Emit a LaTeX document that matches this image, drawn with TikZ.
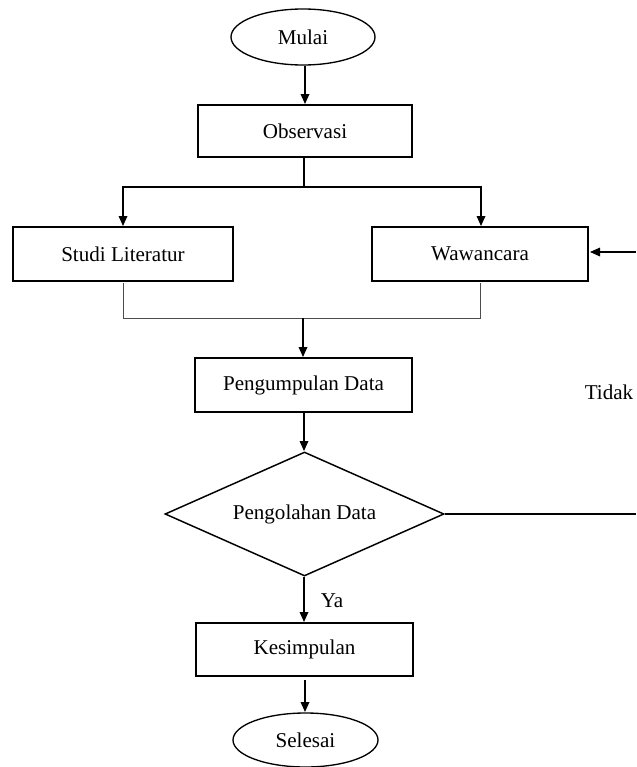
\documentclass[tikz,border=0pt]{standalone}
\usepackage{fontspec}
\setmainfont{Liberation Serif}
\usetikzlibrary{shapes.geometric,arrows.meta}
\begin{document}
\begin{tikzpicture}[x=0.75pt,y=-0.75pt,
  every node/.style={font=\fontsize{15.8pt}{18pt}\selectfont},
  term/.style={draw,line width=1pt,ellipse,inner sep=0pt},
  proc/.style={draw,line width=1.2pt,rectangle,inner sep=0pt},
  dec/.style={draw,line width=1.1pt,diamond,inner sep=0pt},
  conn/.style={line width=0.9pt},
  arr/.style={conn,-{Triangle[length=7.5pt,width=6.5pt]}},
  merge/.style={line width=0.7pt,draw=black!70}]
\useasboundingbox (0,0) rectangle (636,767);
\node[term,minimum width=144*0.75pt,minimum height=56*0.75pt] (mulai) at (303,37) {Mulai};
\node[proc,minimum width=214*0.75pt,minimum height=52*0.75pt] (obs) at (305,131) {Observasi};
\node[proc,minimum width=220*0.75pt,minimum height=54*0.75pt] (studi) at (123,254) {Studi Literatur};
\node[proc,minimum width=216*0.75pt,minimum height=54*0.75pt] (waw) at (480,254) {Wawancara};
\node[proc,minimum width=217*0.75pt,minimum height=54*0.75pt] (pd) at (303.5,385) {Pengumpulan Data};
\node[dec,minimum width=279*0.75pt,minimum height=124*0.75pt,aspect=2.25] (olah) at (304.5,514) {};
\node (olahtxt) at (304.5,514) {Pengolahan Data};
\node[proc,minimum width=217*0.75pt,minimum height=53*0.75pt] (kes) at (304.5,649.5) {Kesimpulan};
\node[term,minimum width=145*0.75pt,minimum height=54*0.75pt] (sel) at (305.5,740) {Selesai};
\node (tidak) at (609,392) {Tidak};
\node (ya) at (332,601) {Ya};
\coordinate (ob) at (304,187);
\coordinate (sa) at (123,187);
\coordinate (wa) at (481,187);
\coordinate (sb) at (123,318);
\coordinate (wb) at (480,318);
\coordinate (mb) at (303,318);
\coordinate (rin) at (636,252);
\coordinate (rout) at (636,514);
\draw[arr] (305,66) -- (305,104);
\draw[conn] (304,157) -- (ob);
\draw[arr] (ob) -- (sa) -- (123,226);
\draw[arr] (ob) -- (wa) -- (481,226);
\draw[arr] (rin) -- (590,252);
\draw[merge] (123,283) -- (sb) -- (wb) -- (480,283);
\draw[arr] (mb) -- (303,357);
\draw[arr] (304,413) -- (304,451);
\draw[conn] (olah.east) -- (rout);
\draw[arr] (304,577) -- (304,622);
\draw[arr] (305,680) -- (305,712);
\end{tikzpicture}
\end{document}
